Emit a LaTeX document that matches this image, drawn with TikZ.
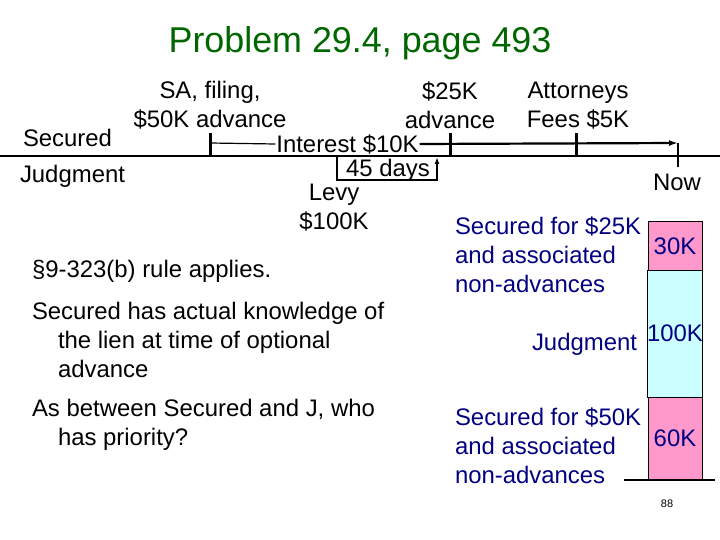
\documentclass[tikz,border=0pt]{standalone}
\usepackage{fontspec}
\setmainfont{Liberation Sans}
\usepackage{xcolor}
\usepackage{tikz}
\usetikzlibrary{arrows.meta,positioning,calc}

\definecolor{titlegreen}{RGB}{0,102,0}
\definecolor{navytext}{RGB}{0,0,128}
\definecolor{secpink}{RGB}{255,153,204}
\definecolor{judcyan}{RGB}{204,255,255}

\begin{document}
\begin{tikzpicture}[
  x=1bp, y=-1bp,
  every node/.style={outer sep=0pt, inner sep=0pt},
  txt/.style ={font=\fontsize{24}{29}\selectfont, align=left},
  ctxt/.style={font=\fontsize{24}{29}\selectfont, align=center},
  blue/.style={txt, text=navytext},
  tick/.style={line width=3bp},
  rail/.style={line width=1.6bp},
  segbox/.style={draw, line width=1bp, minimum width=54bp, text=navytext,
                 font=\fontsize{24}{29}\selectfont}
]
  \useasboundingbox (0,0) rectangle (720,540);

  % Title
  \node[font=\fontsize{36}{40}\selectfont, text=titlegreen] (title) at (360,43) {Problem 29.4, page 493};

  % Timeline rows
  \node[txt, anchor=west] (secrow) at (23,138) {Secured};
  \node[txt, anchor=west] (judrow) at (20,176) {Judgment};
  \coordinate (railL) at (0,156);
  \coordinate (railR) at (720,156);

  % Events on the Secured side
  \node[ctxt] (sa)   at (210,105.5) {SA, filing,\\\$50K advance};
  \node[ctxt] (adv)  at (450,105.5) {\$25K\\advance};
  \node[ctxt] (fees) at (578,106)   {Attorneys\\Fees \$5K};
  \coordinate (t1) at (210,143);
  \coordinate (t2) at (450,143);
  \coordinate (t3) at (576,143);
  \coordinate (nowtop) at (678,143);
  \coordinate (nowbot) at (678,167);
  \node[txt, fill=white, inner sep=1pt] (int) at (347.5,144) {Interest \$10K};
  \draw[rail] (railL) -- (railR);
  \foreach \t in {t1,t2,t3}
    \draw[tick] ($(\t)+(0,-10)$) -- ($(\t)+(0,13)$);
  \draw[line width=1.2bp] (t1) -- (int.west);
  \draw[line width=2.2bp, -{Latex[length=9bp,width=6bp]}] (int.east) -- (nowtop);
  \draw[line width=2.4bp] (nowtop) -- (nowbot);
  \node[txt] (now) at (677,182) {Now};

  % Judgment side
  \coordinate (bra) at (337,156);
  \coordinate (brb) at (337,180);
  \coordinate (brc) at (437,180);
  \coordinate (brd) at (437,157);
  \draw[rail, -{Latex[length=7bp,width=5bp]}] (bra) -- (brb) -- (brc) -- (brd);
  \node[txt] (days) at (388,170) {45 days};
  \node[ctxt] (levy) at (334,208) {Levy\\\$100K};

  % Left notes
  \node[txt, anchor=west] (rule) at (32,271) {\S9-323(b) rule applies.};
  \node[txt, anchor=west] (know) at (32,340)
    {Secured has actual knowledge of\\\hspace*{26bp}the lien at time of optional\\\hspace*{26bp}advance};
  \node[txt, anchor=west] (ask) at (32,424.5)
    {As between Secured and J, who\\\hspace*{26bp}has priority?};

  % Priority stack
  \node[segbox, fill=secpink, minimum height=48bp] (b30) at (675,246) {30K};
  \node[segbox, fill=judcyan, minimum height=127bp, below=0pt of b30] (b100) {100K};
  \node[segbox, fill=secpink, minimum height=83bp, below=0pt of b100] (b60) {60K};
  \coordinate (gl) at (624,480);
  \coordinate (gr) at (715,480);
  \draw[line width=1.4bp] (gl) -- (gr);

  \node[blue, anchor=west] (sec25) at (455,255) {Secured for \$25K\\and associated\\non-advances};
  \node[blue, anchor=east] (jud)   at (637,344) {Judgment};
  \node[blue, anchor=west] (sec50) at (455,446) {Secured for \$50K\\and associated\\non-advances};

  % Page number
  \node[font=\fontsize{11}{12}\selectfont] (pg) at (667,504) {88};
\end{tikzpicture}
\end{document}
